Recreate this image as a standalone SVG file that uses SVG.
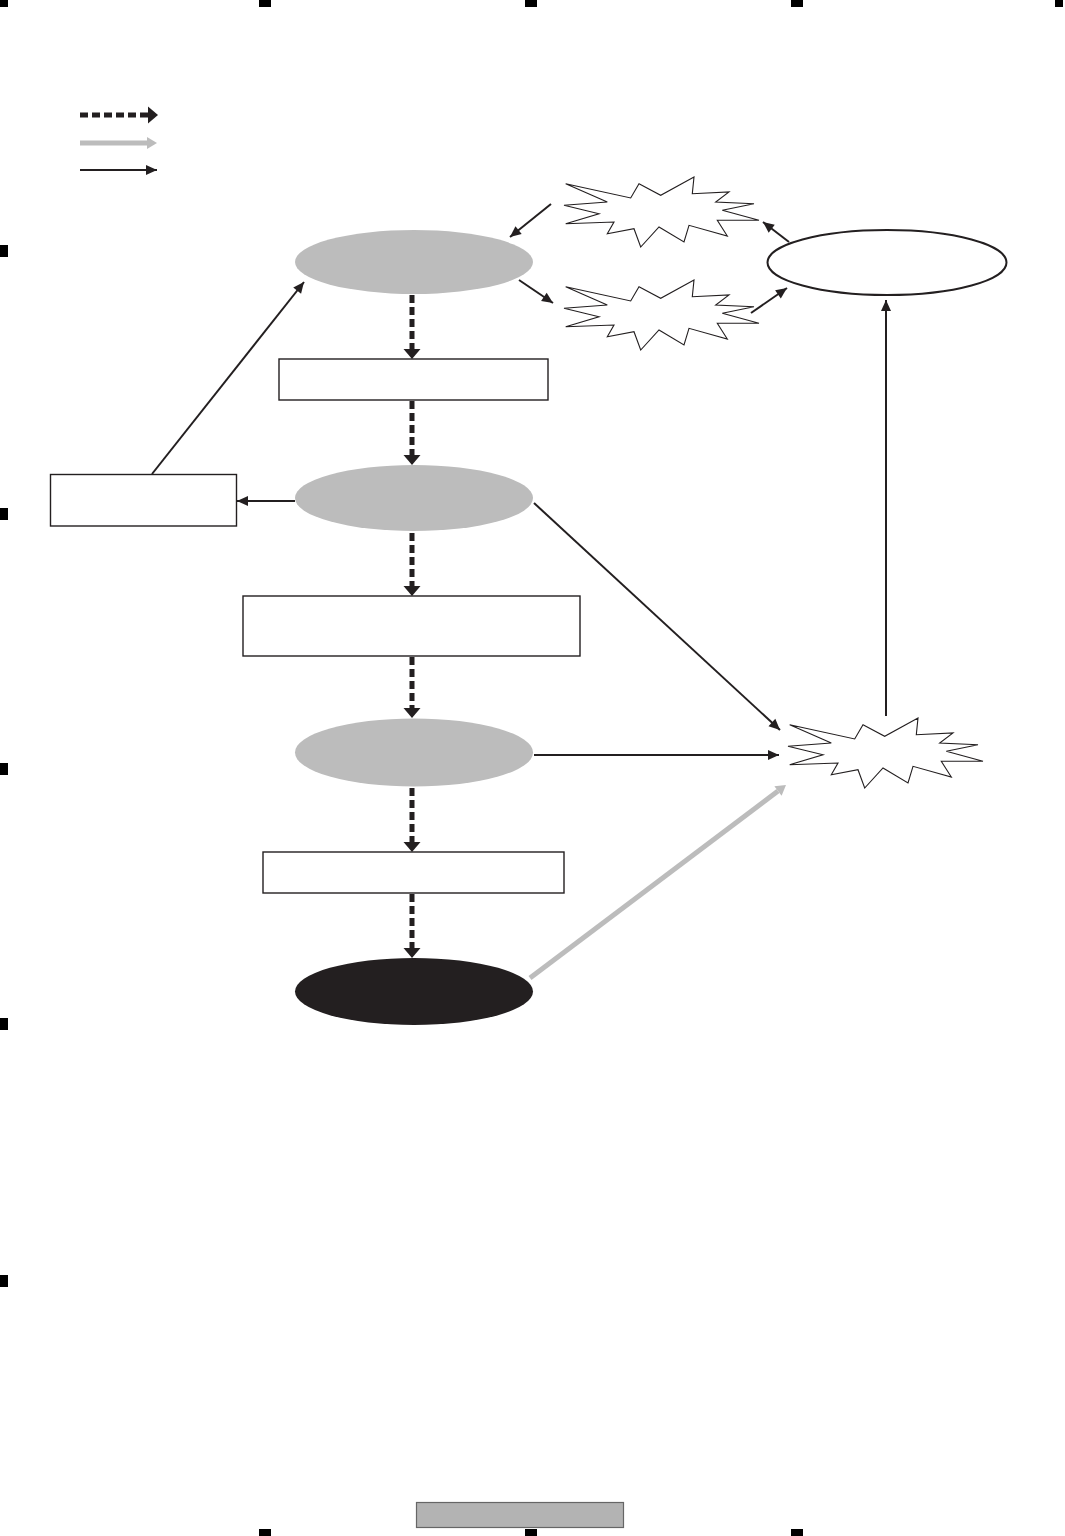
<svg xmlns="http://www.w3.org/2000/svg" xmlns:xlink="http://www.w3.org/1999/xlink" width="1065" height="1536" viewBox="0 0 1065 1536">
<style>
.reg{fill:#000}
.gray{fill:#bcbcbc;stroke:none}
.box{fill:#fff;stroke:#231f20;stroke-width:1.4}
.star{fill:#fff;stroke:#231f20;stroke-width:1.1;stroke-linejoin:miter}
.dash{stroke:#231f20;stroke-width:5;stroke-dasharray:8 4;fill:none}
.thin{stroke:#231f20;stroke-width:2;fill:none}
.gline{stroke:#bcbcbc;stroke-width:5;fill:none}
</style>
<defs>
<marker id="hd" markerUnits="userSpaceOnUse" markerWidth="10" markerHeight="17" refX="0" refY="8.5" orient="auto" overflow="visible">
<path d="M0,0 L10,8.5 L0,17 z" fill="#231f20"/>
</marker>
<marker id="ht" markerUnits="userSpaceOnUse" markerWidth="11" markerHeight="10" refX="11" refY="5" orient="auto" overflow="visible">
<path d="M0,0 L11,5 L0,10 z" fill="#231f20"/>
</marker>
<marker id="hg" markerUnits="userSpaceOnUse" markerWidth="10" markerHeight="12" refX="0" refY="6" orient="auto" overflow="visible">
<path d="M0,0 L10,6 L0,12 z" fill="#bcbcbc"/>
</marker>
<path id="burst" d="M1.7,6.7 L66.7,21 L75,6.7 L96.7,18.3 L130,0 L128.3,16.7 L165,15 L151.7,25 L190,26.7 L158.3,33.3 L195,43.3 L153.3,43.3 L163.3,59 L125,48.3 L120,65 L95,50 L76.7,70 L70,51.7 L43.3,56.7 L50,45 L1.7,46.7 L35,36.7 L0,28.3 L43.3,25 Z"/>
</defs>
<rect width="1065" height="1536" fill="#fff"/>
<g id="registration">
<rect class="reg" x="0" y="0" width="8" height="7"/>
<rect class="reg" x="259" y="0" width="12" height="7"/>
<rect class="reg" x="525" y="0" width="12" height="7"/>
<rect class="reg" x="791" y="0" width="12" height="7"/>
<rect class="reg" x="1055" y="0" width="8" height="7"/>
<rect class="reg" x="0" y="245" width="8" height="12"/>
<rect class="reg" x="0" y="508" width="8" height="12"/>
<rect class="reg" x="0" y="763" width="8" height="12"/>
<rect class="reg" x="0" y="1018" width="8" height="12"/>
<rect class="reg" x="0" y="1275" width="8" height="12"/>
<rect class="reg" x="259" y="1529" width="12" height="7"/>
<rect class="reg" x="525" y="1529" width="12" height="7"/>
<rect class="reg" x="791" y="1529" width="12" height="7"/>
</g>
<g id="legend">
<line class="dash" x1="80" y1="115" x2="148" y2="115" marker-end="url(#hd)"/>
<line class="gline" x1="80" y1="143" x2="147" y2="143" marker-end="url(#hg)"/>
<line class="thin" x1="80" y1="170" x2="157" y2="170" marker-end="url(#ht)"/>
</g>
<g id="node-ellipse1"><ellipse class="gray" cx="414" cy="262" rx="119" ry="32"/></g>
<g id="node-rect1"><rect class="box" x="279" y="359" width="269" height="41"/></g>
<g id="node-ellipse2"><ellipse class="gray" cx="414" cy="498" rx="119" ry="33"/></g>
<g id="node-leftbox"><rect class="box" x="50.5" y="474.5" width="186" height="51.5"/></g>
<g id="node-rect2"><rect class="box" x="243" y="596" width="337" height="60"/></g>
<g id="node-ellipse3"><ellipse class="gray" cx="414" cy="752.5" rx="119" ry="34"/></g>
<g id="node-rect3"><rect class="box" x="263" y="852" width="301" height="41"/></g>
<g id="node-ellipse4"><ellipse fill="#231f20" cx="414" cy="991.5" rx="119" ry="33.5"/></g>
<g id="node-whiteellipse"><ellipse fill="#fff" stroke="#231f20" stroke-width="2" cx="887" cy="262.5" rx="119.5" ry="32.5"/></g>
<g id="node-star1"><use xlink:href="#burst" class="star" transform="translate(564,177)"/></g>
<g id="node-star2"><use xlink:href="#burst" class="star" transform="translate(564,280)"/></g>
<g id="node-star3"><use xlink:href="#burst" class="star" transform="translate(788,718)"/></g>
<g id="connectors">
<line class="dash" x1="412" y1="295" x2="412" y2="349" marker-end="url(#hd)"/>
<line class="dash" x1="412" y1="401" x2="412" y2="455" marker-end="url(#hd)"/>
<line class="dash" x1="412" y1="533" x2="412" y2="586" marker-end="url(#hd)"/>
<line class="dash" x1="412" y1="657" x2="412" y2="708" marker-end="url(#hd)"/>
<line class="dash" x1="412" y1="788" x2="412" y2="842" marker-end="url(#hd)"/>
<line class="dash" x1="412" y1="894" x2="412" y2="948" marker-end="url(#hd)"/>
<line class="thin" x1="152" y1="474" x2="304" y2="282" marker-end="url(#ht)"/>
<line class="thin" x1="295" y1="501" x2="237" y2="501" marker-end="url(#ht)"/>
<line class="thin" x1="551" y1="204" x2="510" y2="237" marker-end="url(#ht)"/>
<line class="thin" x1="519" y1="280" x2="553" y2="303" marker-end="url(#ht)"/>
<line class="thin" x1="789" y1="242" x2="763" y2="222" marker-end="url(#ht)"/>
<line class="thin" x1="751" y1="313" x2="787" y2="288" marker-end="url(#ht)"/>
<line class="thin" x1="886" y1="716" x2="886" y2="300" marker-end="url(#ht)"/>
<line class="thin" x1="534" y1="503" x2="780" y2="730" marker-end="url(#ht)"/>
<line class="thin" x1="534" y1="755" x2="779" y2="755" marker-end="url(#ht)"/>
<line class="gline" x1="530" y1="978" x2="778" y2="791" marker-end="url(#hg)"/>
</g>
<g id="footer"><rect x="416.5" y="1502.5" width="207" height="25" fill="#b3b3b3" stroke="#666" stroke-width="1.2"/></g>
</svg>
